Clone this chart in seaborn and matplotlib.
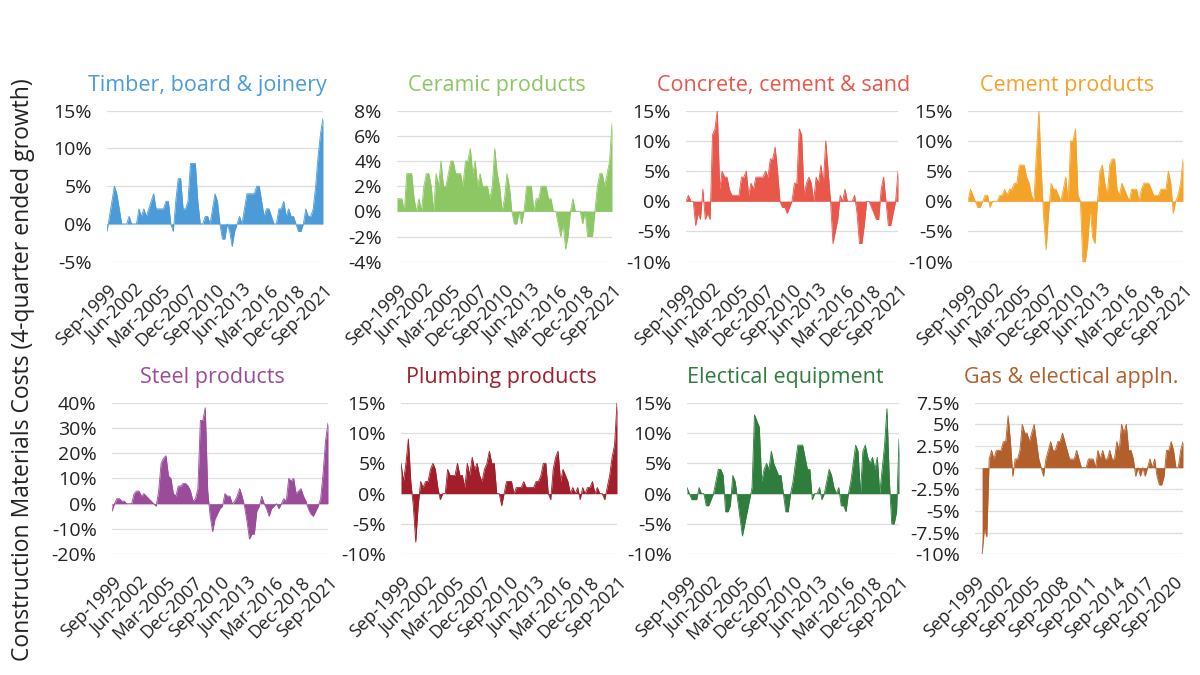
import numpy as np
import pandas as pd
import matplotlib
matplotlib.use("Agg")
import matplotlib.pyplot as plt
import matplotlib.transforms as mtransforms
import seaborn as sns

# ---------------- data (quarterly, Sep-1999 .. Sep-2021) ----------------
timber = [-1, 1, 3, 5, 4, 2, 0, 0, 0, 1, 0, 0, 0, 2, 1, 2, 1, 2, 3, 4,
          2, 2, 2, 2, 3, 3, 0, -1, 3, 6, 6, 2, 2, 3, 8, 8, 8, 3, 0, 0,
          1, 1, 0, 2, 4, 3, 0, -2, -2, 0, -1, -3, -1, 0, 1, 0, 2, 4, 4, 4,
          4, 5, 5, 3, 1, 2, 2, 1, 0, 0, 2, 2, 3, 1, 2, 1, 1, 0, -1, -1,
          0, 2, 1, 1, 2, 5, 9, 12, 14]
ceramic = [1, 1, 1, 0, 3, 3, 3, 1, 0, 1, 0, 2, 3, 3, 2, 0, 3, 2, 4, 2,
           2, 3, 4, 4, 3, 3, 3, 2, 4, 4, 5, 3, 4, 2, 3, 2, 2, 2, 1, 2,
           5, 3, 2, 0, 1, 3, 2, 0, -1, -1, 0, -1, 0, 2, 2, 2, 0, 1, 1, 2,
           2, 2, 1, 1, 0, 0, -1, -2, -1, -3, -2, 0, 1, 0, 0, 0, -1, 0, -2, -2,
           -2, 0, 2, 3, 3, 2, 3, 4, 7]
concrete = [0, 1, 0, 0, -4, -2, -3, 2, -3, -2, -3, 11, 12, 15, 2, 5, 4, 4, 2, 1,
            1, 1, 1, 4, 4, 5, 1, 3, 2, 4, 4, 4, 4, 5, 4, 7, 7, 9, 5, 0,
            -1, -1, -2, -1, 0, 3, 3, 12, 11, 1, 3, 4, 3, 0, 4, 3, 6, 3, 10, 5,
            0, -7, -5, -3, 1, 0, 2, 0, 0, 0, 1, -2, -7, -7, -4, 0, 0, -1, -2, -3,
            -3, 2, 4, 0, -4, -4, -2, 0, 5]
cement = [0, 2, 1, 0, -1, -1, 0, 1, 1, -1, 0, 0, 0, 1, 1, 2, 1, 2, 2, 3,
          3, 6, 6, 6, 4, 3, 1, 0, 8, 15, 5, -3, -8, -2, 3, 2, 2, 1, 0, 2,
          4, 0, 10, 10, 12, 1, 0, -10, -10, -7, -1, -6, -7, 0, 5, 6, 3, 1, 6, 7,
          7, 2, 1, 3, 2, 1, 0, 2, 2, 2, 0, 2, 3, 3, 3, 2, 1, 1, 1, 2,
          2, 2, 5, 3, -2, 0, 1, 3, 7]
steel = [-3, 0, 2, 2, 1, 1, 0, 0, 0, 4, 5, 5, 3, 4, 3, 2, 1, 0, -1, 5,
         16, 18, 19, 11, 10, 4, 3, 7, 7, 8, 8, 7, 5, 1, 2, 6, 33, 33, 38, 5,
         -5, -11, -6, -4, -2, -1, 4, 3, 3, 0, 1, 3, 6, 3, -1, -7, -14, -12, -12, -3,
         -1, 3, 0, -2, -5, -2, -1, 0, -2, 0, 2, 1, 10, 9, 10, 4, 5, 6, 3, 1,
         -2, -4, -5, -3, -1, 2, 12, 25, 32]
plumbing = [5, 2, 5, 9, 2, -2, -8, -2, 2, 1, 2, 2, 4, 5, 4, 1, -1, 0, 0, 4,
            3, 3, 3, 5, 3, 3, 1, 5, 3, 6, 4, 5, 3, 2, 4, 5, 7, 5, 5, 0,
            0, -2, 0, 2, 2, 2, 0, 1, 1, 1, 2, 1, 1, 1, 1, 2, 2, 3, 5, 5,
            0, -1, 4, 6, 7, 2, 4, 3, 2, 0, 1, 0, 1, -1, 1, 0, 1, 1, 2, 0,
            1, 0, 0, -1, 1, 3, 6, 8, 15]
electrical = [1, 0, -1, -1, -1, 1, 0, 0, -2, -2, -1, 0, 2, 4, 4, 3, -3, -3, -2, 3,
              2, -1, -4, -7, -5, -3, -1, 1, 13, 12, 11, 2, 4, 5, 4, 7, 5, 4, 3, 3,
              0, -3, -3, 0, 2, 5, 8, 8, 8, 6, 4, 4, -1, 0, 0, 1, -1, 0, 2, 4,
              3, 1, 0, 1, -2, -2, -3, 0, 2, 5, 8, 7, 0, 7, 8, 6, 5, 6, 4, 6,
              0, 4, 8, 14, 2, -5, -5, -3, 9]
gas = [np.nan, np.nan, np.nan, -10, -7, -8, 1, 2, 1, 2, 2, 2, 3, 3, 6, 3, -1, 1, 1, 2,
       5, 4, 4, 3, 4, 5, 3, 1, 0, -1, 1, 2, 3, 2, 2, 3, 3, 4, 3, 2,
       1, 1, 1, 2, 1, 0, 0, 0, 1, 1, 1, 0, 2, 1, 2, 1, 1, 2, 1, 1,
       3, 2, 5, 4, 5, 2, 2, 1, -1, 0, -1, 0, -1, 0, 1, 0, 1, -1, -2, -2,
       -1, 2, 2, 3, 2, 0, 0, 2, 3]

months = ["Mar", "Jun", "Sep", "Dec"]
quarters = [f"{months[(2 + i) % 4]}-{1999 + (2 + i) // 4}" for i in range(89)]

titles = ["Timber, board & joinery", "Ceramic products", "Concrete, cement & sand",
          "Cement products", "Steel products", "Plumbing products",
          "Electical equipment", "Gas & electical appln."]
series = [timber, ceramic, concrete, cement, steel, plumbing, electrical, gas]
colors = ["#4A9BD8", "#8DC764", "#E9564A", "#F5A328",
          "#9A4B9A", "#A11E2A", "#2E7D3C", "#B25F2C"]
y_ticks = [[-5, 0, 5, 10, 15], [-4, -2, 0, 2, 4, 6, 8], [-10, -5, 0, 5, 10, 15],
           [-10, -5, 0, 5, 10, 15], [-20, -10, 0, 10, 20, 30, 40],
           [-10, -5, 0, 5, 10, 15], [-10, -5, 0, 5, 10, 15],
           [-10, -7.5, -5, -2.5, 0, 2.5, 5, 7.5]]
x_step = [11, 11, 11, 11, 11, 11, 11, 12]

# ---------------- layout ----------------
W, H = 1200, 675
boxes = [(107, 110.7, 216, 151), (397, 110.7, 215, 151), (686, 110.7, 212, 151), (968, 110.7, 215, 151),
         (112, 402.7, 216, 151.5), (401, 402.7, 216, 151.5), (687, 402.7, 212, 151.5), (975, 402.7, 208, 151.5)]

sns.set_theme(style="white")
plt.rcParams["font.family"] = ["Open Sans", "DejaVu Sans"]

fig = plt.figure(figsize=(12, 6.75), dpi=100)
fig.patch.set_facecolor("white")
shift = mtransforms.ScaledTranslation(12 / 100, 0, fig.dpi_scale_trans)

for k in range(8):
    l, t, w, h = boxes[k]
    ax = fig.add_axes([l / W, 1 - (t + h) / H, w / W, h / H])
    df = pd.DataFrame({"q": np.arange(89), "v": series[k]})
    sns.lineplot(data=df, x="q", y="v", ax=ax, color=colors[k], linewidth=0.6)
    ax.fill_between(df["q"], df["v"], 0, where=~df["v"].isna(), color=colors[k],
                    linewidth=0, interpolate=True)
    yt = y_ticks[k]
    ax.set_ylim(yt[0], yt[-1])
    ax.set_yticks(yt)
    ax.set_yticklabels([f"{v:g}%" for v in yt], fontsize=14, color="#222222")
    ax.set_xlim(0, 88)
    xt = list(range(0, 89, x_step[k]))
    ax.set_xticks(xt)
    ax.set_xticklabels([quarters[i] for i in xt], rotation=45, ha="right",
                       rotation_mode="anchor", fontsize=13, color="#222222")
    for lab in ax.get_xticklabels():
        lab.set_transform(lab.get_transform() + shift)
    ax.tick_params(axis="x", length=0, pad=14)
    ax.tick_params(axis="y", length=0, pad=11)
    ax.grid(axis="y", color="#dddddd", linewidth=0.9)
    ax.set_axisbelow(True)
    for s in ax.spines.values():
        s.set_visible(False)
    ax.set_xlabel("")
    ax.set_ylabel("")
    ax.set_title(titles[k], color=colors[k], fontsize=15.5, pad=14, x=0.5 - 8 / w)

fig.text(0.019, 0.452, "Construction Materials Costs (4-quarter ended growth)",
         rotation=90, ha="center", va="center", fontsize=16.5, color="#222222")

fig.savefig("out.png", dpi=100, facecolor="white")
